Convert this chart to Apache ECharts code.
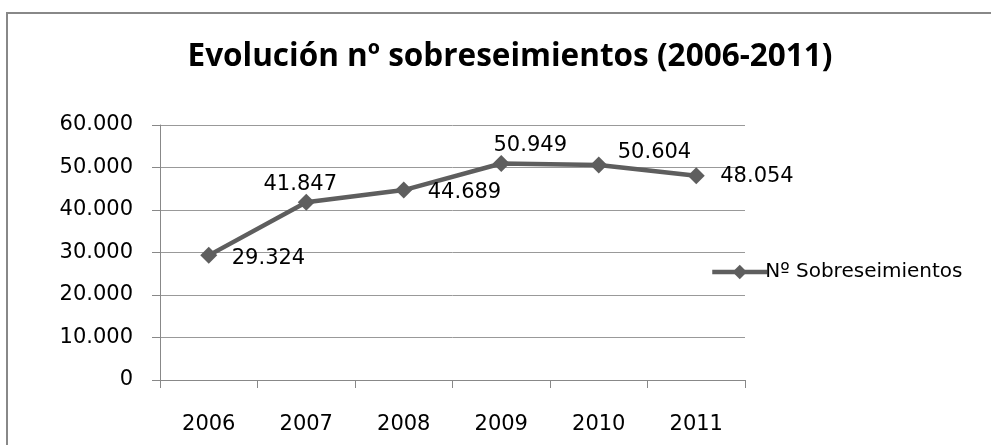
<!DOCTYPE html>
<html>
<head>
<meta charset="utf-8">
<script src="https://cdn.jsdelivr.net/npm/echarts@6/dist/echarts.min.js"></script>
<style>html,body{margin:0;padding:0;background:#fff}#c{width:991px;height:445px}</style>
</head>
<body>
<div id="c"></div>
<script>
const titleText = 'Evolución nº sobreseimientos (2006-2011)';
const seriesName = 'Nº Sobreseimientos';
const categories = ['2006', '2007', '2008', '2009', '2010', '2011'];
const values = [29324, 41847, 44689, 50949, 50604, 48054];
const yTicks = [0, 10000, 20000, 30000, 40000, 50000, 60000];

// label placement per point (styling only)
const labelAlign = ['left', 'center', 'left', 'center', 'left', 'left'];
const labelOffset = [[23, 3], [-6, -18], [24, 2], [29, -18], [19, -12], [24, 1]];

function fmt(v) {
  return String(v).replace(/\B(?=(\d{3})+(?!\d))/g, '.');
}

const FONT = 'DejaVu Sans';
const chart = echarts.init(document.getElementById('c'), null, { renderer: 'canvas' });
chart.setOption({
  animation: false,
  backgroundColor: '#fff',
  graphic: [{
    type: 'rect',
    shape: { x: 7, y: 13, width: 2000, height: 1000 },
    style: { fill: 'none', stroke: '#888', lineWidth: 2 },
    silent: true
  }],
  title: {
    text: titleText,
    left: 505, top: 36, textAlign: 'center',
    textStyle: { fontFamily: 'Open Sans', fontWeight: 'bold', fontSize: 31.5, color: '#000' }
  },
  legend: {
    data: [seriesName],
    left: 705, top: 257,
    itemWidth: 55, itemHeight: 18, itemGap: 0,
    lineStyle: { width: 4.5 },
    textStyle: { fontFamily: FONT, fontSize: 20, color: '#000', padding: [0, 0, 0, -7] }
  },
  grid: { left: 160, right: 246, top: 125, bottom: 65, containLabel: false },
  xAxis: {
    type: 'category',
    data: categories,
    boundaryGap: true,
    axisLine: { lineStyle: { color: '#888', width: 1 } },
    axisTick: { show: true, length: 8, alignWithLabel: false, lineStyle: { color: '#888' } },
    axisLabel: { margin: 34, fontFamily: FONT, fontSize: 21, color: '#000' },
    splitLine: { show: false }
  },
  yAxis: {
    type: 'value',
    min: yTicks[0], max: yTicks[yTicks.length - 1], interval: yTicks[1] - yTicks[0],
    axisLine: { show: true, lineStyle: { color: '#888', width: 1 } },
    axisTick: { show: true, length: 8, lineStyle: { color: '#888' } },
    axisLabel: { margin: 27, fontFamily: FONT, fontSize: 21, color: '#000', formatter: v => fmt(v) },
    splitLine: { show: true, lineStyle: { color: '#999', width: 1 } }
  },
  series: [{
    name: seriesName,
    type: 'line',
    data: values.map((v, i) => ({
      value: v,
      label: { align: labelAlign[i], offset: labelOffset[i] }
    })),
    symbol: 'diamond',
    symbolSize: 17,
    showAllSymbol: true,
    itemStyle: { color: '#5e5e5e' },
    lineStyle: { color: '#5e5e5e', width: 4.5 },
    label: {
      show: true,
      position: 'inside',
      verticalAlign: 'middle',
      fontFamily: FONT, fontSize: 21, color: '#000',
      formatter: p => fmt(p.value)
    }
  }]
});
</script>
</body>
</html>
